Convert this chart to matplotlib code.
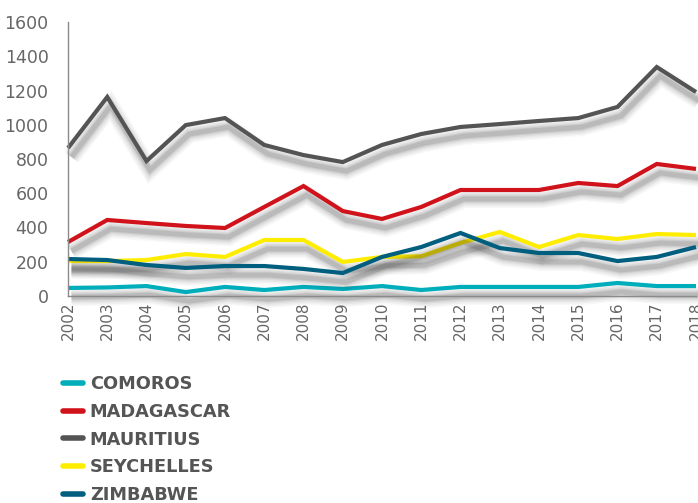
import matplotlib
matplotlib.use("Agg")
import matplotlib.pyplot as plt
import matplotlib.patheffects as pe
from matplotlib.lines import Line2D

years = list(range(2002, 2019))
comoros = [47, 50, 58, 23, 53, 35, 53, 41, 58, 35, 53, 53, 53, 53, 76, 58, 58]
madagascar = [315, 444, 426, 409, 397, 520, 642, 496, 450, 520, 619, 619, 619, 660, 642, 771, 742]
mauritius = [864, 1162, 788, 998, 1039, 882, 823, 782, 882, 946, 987, 1004, 1022, 1039, 1104, 1337, 1191]
seychelles = [204, 204, 210, 245, 228, 327, 327, 199, 228, 232, 310, 374, 286, 356, 333, 362, 356]
zimbabwe = [216, 210, 181, 164, 175, 175, 158, 134, 228, 286, 368, 280, 251, 251, 204, 228, 286]

names = ["COMOROS", "MADAGASCAR", "MAURITIUS", "SEYCHELLES", "ZIMBABWE"]
series = [comoros, madagascar, mauritius, seychelles, zimbabwe]
colors = ["#00AEBB", "#D0121B", "#545454", "#FFED00", "#005F7F"]
yticks = [0, 200, 400, 600, 800, 1000, 1200, 1400, 1600]

plt.rcParams['font.family'] = ['DejaVu Sans']
fig = plt.figure(figsize=(6.98, 5.03), dpi=100)
ax = fig.add_axes([68/698, (503-296)/503, (696-68)/698, (296-22)/503])

shadow = []
for lw, a in [(13, 0.03), (11, 0.035), (9, 0.045), (7, 0.06), (5, 0.08), (3.5, 0.1)]:
    shadow.append(pe.SimpleLineShadow(offset=(2.5, -6.5), shadow_color='#202020', alpha=a, linewidth=lw))
shadow.append(pe.Normal())

for name, vals, c in zip(names, series, colors):
    ax.plot(years, vals, color=c, lw=3.0, label=name, solid_capstyle='butt',
            solid_joinstyle='miter', clip_on=False, path_effects=shadow)

ax.set_xlim(2002, 2018)
ax.set_ylim(0, 1600)
ax.set_yticks(yticks)
ax.set_xticks(years)
ax.set_xticklabels([str(y) for y in years], rotation=90)
for s in ['top', 'right']:
    ax.spines[s].set_visible(False)
for s in ['left', 'bottom']:
    ax.spines[s].set_color('#8a8a8a')
    ax.spines[s].set_linewidth(1.0)
ax.tick_params(axis='y', length=0, pad=14, labelsize=12.5, labelcolor='#666666')
ax.tick_params(axis='x', length=0, pad=4, labelsize=11, labelcolor='#666666')

lh = [Line2D([0], [0], color=c, lw=4, solid_capstyle='round') for c in colors]
leg = fig.legend(lh, names, loc='upper left', bbox_to_anchor=(56/698, 1 - 368/503),
                 frameon=False, handlelength=1.1, handletextpad=0.4, labelspacing=0.55,
                 prop={'size': 12.8, 'weight': 'bold'}, borderaxespad=0)
for t in leg.get_texts():
    t.set_color('#555555')

fig.savefig("out.png", dpi=100)
